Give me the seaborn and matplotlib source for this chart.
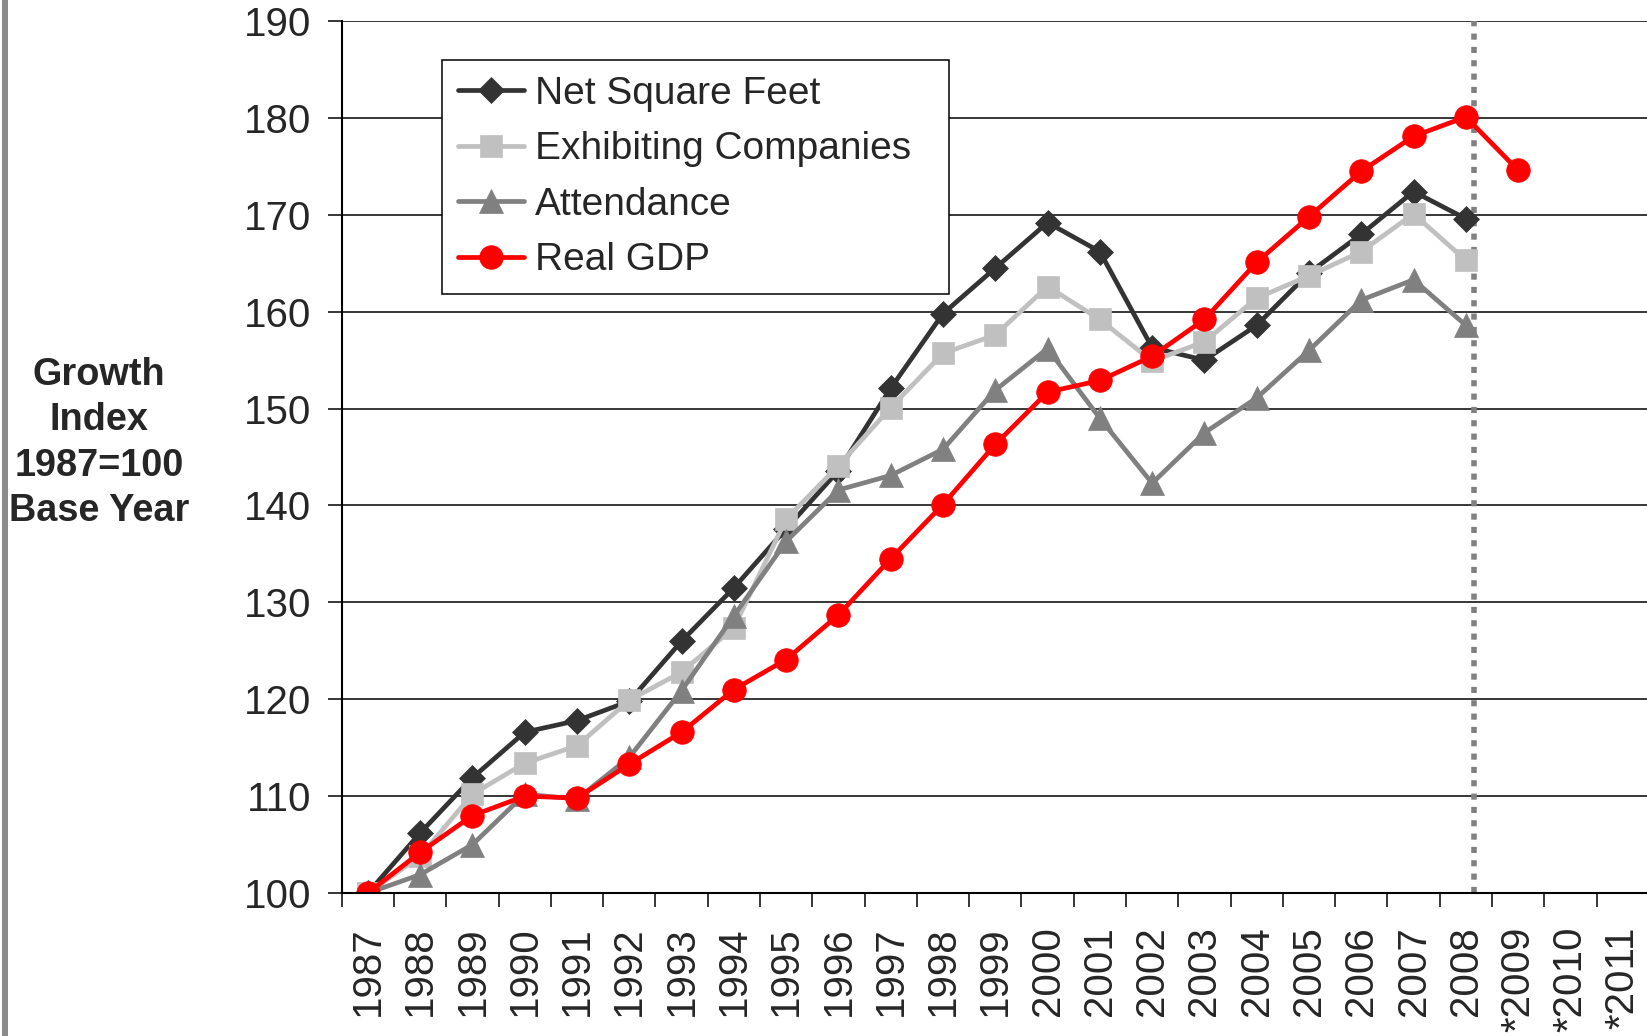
import matplotlib
matplotlib.use("Agg")
import matplotlib.pyplot as plt
import numpy as np
import pandas as pd
import seaborn as sns
from matplotlib.patches import Rectangle

# category labels (2009-2011 are forecasts)
years = [str(y) for y in range(1987, 2009)] + ["*2009", "*2010", "*2011"]

# growth index, 1987 = 100
net_sqft = [100.0, 106.2, 111.9, 116.6, 117.8, 119.8, 126.0, 131.5, 137.6, 143.6,
            152.1, 159.8, 164.5, 169.2, 166.2, 156.3, 155.0, 158.6, 164.0, 168.0,
            172.4, 169.6]
exhibitors = [100.0, 103.8, 110.2, 113.4, 115.2, 119.9, 122.8, 127.4, 138.6, 144.1,
              150.1, 155.7, 157.6, 162.6, 159.2, 154.9, 156.9, 161.4, 163.7, 166.2,
              170.1, 165.3]
attendance = [100.0, 101.9, 105.0, 110.2, 109.7, 114.0, 120.9, 128.6, 136.3, 141.6,
              143.1, 145.8, 151.9, 156.2, 149.0, 142.3, 147.5, 151.1, 156.0, 161.2,
              163.3, 158.6]
real_gdp = [100.0, 104.2, 108.0, 110.0, 109.8, 113.3, 116.6, 121.0, 124.1, 128.7,
            134.5, 140.1, 146.3, 151.7, 152.9, 155.4, 159.2, 165.1, 169.8, 174.5,
            178.1, 180.1, 174.6]

series = [
    ("Net Square Feet", net_sqft, "#333333", "D", 13),
    ("Exhibiting Companies", exhibitors, "#c0c0c0", "s", 16),
    ("Attendance", attendance, "#808080", "^", 17.5),
    ("Real GDP", real_gdp, "#ff0000", "o", 17),
]

sns.set_style("white")
plt.rcParams["font.family"] = ["Liberation Sans", "DejaVu Sans"]

fig = plt.figure(figsize=(16.47, 10.36), dpi=100)
ax = fig.add_axes([0.2075, 0.138, 0.7936, 0.8417])

for name, vals, color, marker, ms in series:
    df = pd.DataFrame({"x": np.arange(len(vals)), "y": vals})
    sns.lineplot(data=df, x="x", y="y", ax=ax, color=color, linewidth=3.4,
                 marker=marker, markersize=ms, markeredgecolor=color,
                 markeredgewidth=0.5, label=name)

# forecast divider
ax.axvline(21.16, color="#808080", linewidth=4, linestyle=(0, (1.1, 1.3)), zorder=1.5)

ax.set_xlim(-0.5, len(years) - 0.5)
ax.set_ylim(100, 190)
ax.set_yticks(range(100, 191, 10))
ax.yaxis.grid(True, color="black", linewidth=1.1)
ax.set_axisbelow(True)

ax.set_xticks(range(len(years)))
ax.set_xticklabels(years, rotation=90)
ax.set_xticks(np.arange(-0.5, len(years), 1), minor=True)
ax.tick_params(axis="x", which="major", length=0, pad=24, labelsize=29)
ax.tick_params(axis="x", which="minor", length=10, width=1.1, color="black",
               direction="out", bottom=True)
ax.tick_params(axis="y", length=10, width=1.1, color="black", direction="out",
               pad=12, labelsize=29, left=True)

ax.set_xlabel("")
ax.set_ylabel("")
for side in ["top", "right"]:
    ax.spines[side].set_visible(False)
for side in ["left", "bottom"]:
    ax.spines[side].set_color("black")
    ax.spines[side].set_linewidth(1.5)

leg = ax.legend(loc="upper left", bbox_to_anchor=(0.0768, 0.0, 0.3875, 0.955),
                mode="expand", borderaxespad=0,
                fontsize=28, frameon=True, fancybox=False, edgecolor="black",
                framealpha=1, handlelength=1.7, handletextpad=0.28,
                labelspacing=0.5, borderpad=0.4)
leg.get_frame().set_linewidth(1.1)

fig.text(99 / 1647, 1 - 443 / 1036, "Growth\nIndex\n1987=100\nBase Year",
         ha="center", va="center", fontsize=27.3, fontweight="bold", linespacing=1.33)

# grey chart-area border on the left
fig.add_artist(Rectangle((2 / 1647, 0), 6 / 1647, 1, transform=fig.transFigure,
                         color="#8c8c8c", linewidth=0))

fig.savefig("out.png", dpi=100)
